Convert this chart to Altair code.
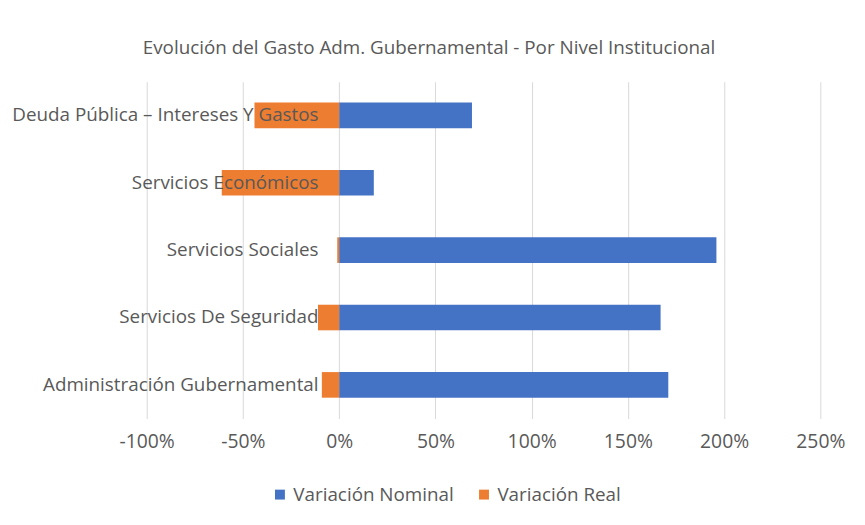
import altair as alt
import pandas as pd

categories = [
    "Deuda Pública – Intereses Y Gastos",
    "Servicios Económicos",
    "Servicios Sociales",
    "Servicios De Seguridad",
    "Administración Gubernamental",
]
nominal = [69, 18, 196, 167, 171]
real = [-44, -61, -1, -11, -9]
series_names = ["Variación Nominal", "Variación Real"]
series_colors = ["#4472C4", "#ED7D31"]
x_ticks = [-100, -50, 0, 50, 100, 150, 200, 250]
title_text = "Evolución del Gasto Adm. Gubernamental - Por Nivel Institucional"

rows = []
for c, n, r in zip(categories, nominal, real):
    rows.append({"category": c, "series": series_names[0], "value": n})
    rows.append({"category": c, "series": series_names[1], "value": r})
df = pd.DataFrame(rows)

FONT = "Open Sans"
TXT = "#595959"

chart = (
    alt.Chart(df)
    .mark_bar()
    .encode(
        x=alt.X(
            "value:Q",
            stack=None,
            scale=alt.Scale(domain=[-100, 250], nice=False, zero=False),
            axis=alt.Axis(
                values=x_ticks,
                labelExpr="datum.value + '%'",
                grid=True,
                gridColor="#D9D9D9",
                domain=False,
                ticks=False,
                labelFlush=False,
                labelPadding=14,
                labelFontSize=19.5,
                labelFont=FONT,
                labelColor=TXT,
                title=None,
                zindex=0,
            ),
        ),
        y=alt.Y(
            "category:N",
            sort=categories,
            scale=alt.Scale(paddingInner=0.62, paddingOuter=0.31),
            axis=alt.Axis(
                offset=-194,
                domain=False,
                ticks=False,
                grid=False,
                labelPadding=21,
                labelFontSize=19,
                labelFont=FONT,
                labelColor=TXT,
                labelLimit=500,
                title=None,
                zindex=2,
            ),
        ),
        color=alt.Color(
            "series:N",
            scale=alt.Scale(domain=series_names, range=series_colors),
            legend=alt.Legend(
                orient="none",
                legendX=125,
                legendY=407,
                direction="horizontal",
                title=None,
                symbolType="square",
                symbolSize=100,
                symbolStrokeWidth=0,
                labelFontSize=19,
                labelFont=FONT,
                labelColor=TXT,
                labelLimit=400,
                columnPadding=20,
                labelOffset=4,
            ),
        ),
    )
    .properties(
        width=680,
        height=340,
        title=alt.TitleParams(
            text=title_text,
            fontSize=19,
            font=FONT,
            fontWeight="normal",
            color=TXT,
            anchor="middle",
            dx=-55,
            offset=24,
        ),
        autosize=alt.AutoSizeParams(type="none"),
        padding={"left": 140, "top": 72, "right": 37, "bottom": 105},
    )
    .configure_view(stroke=None)
)

chart.save("out.html", embed_options={"renderer": "svg", "actions": False})
